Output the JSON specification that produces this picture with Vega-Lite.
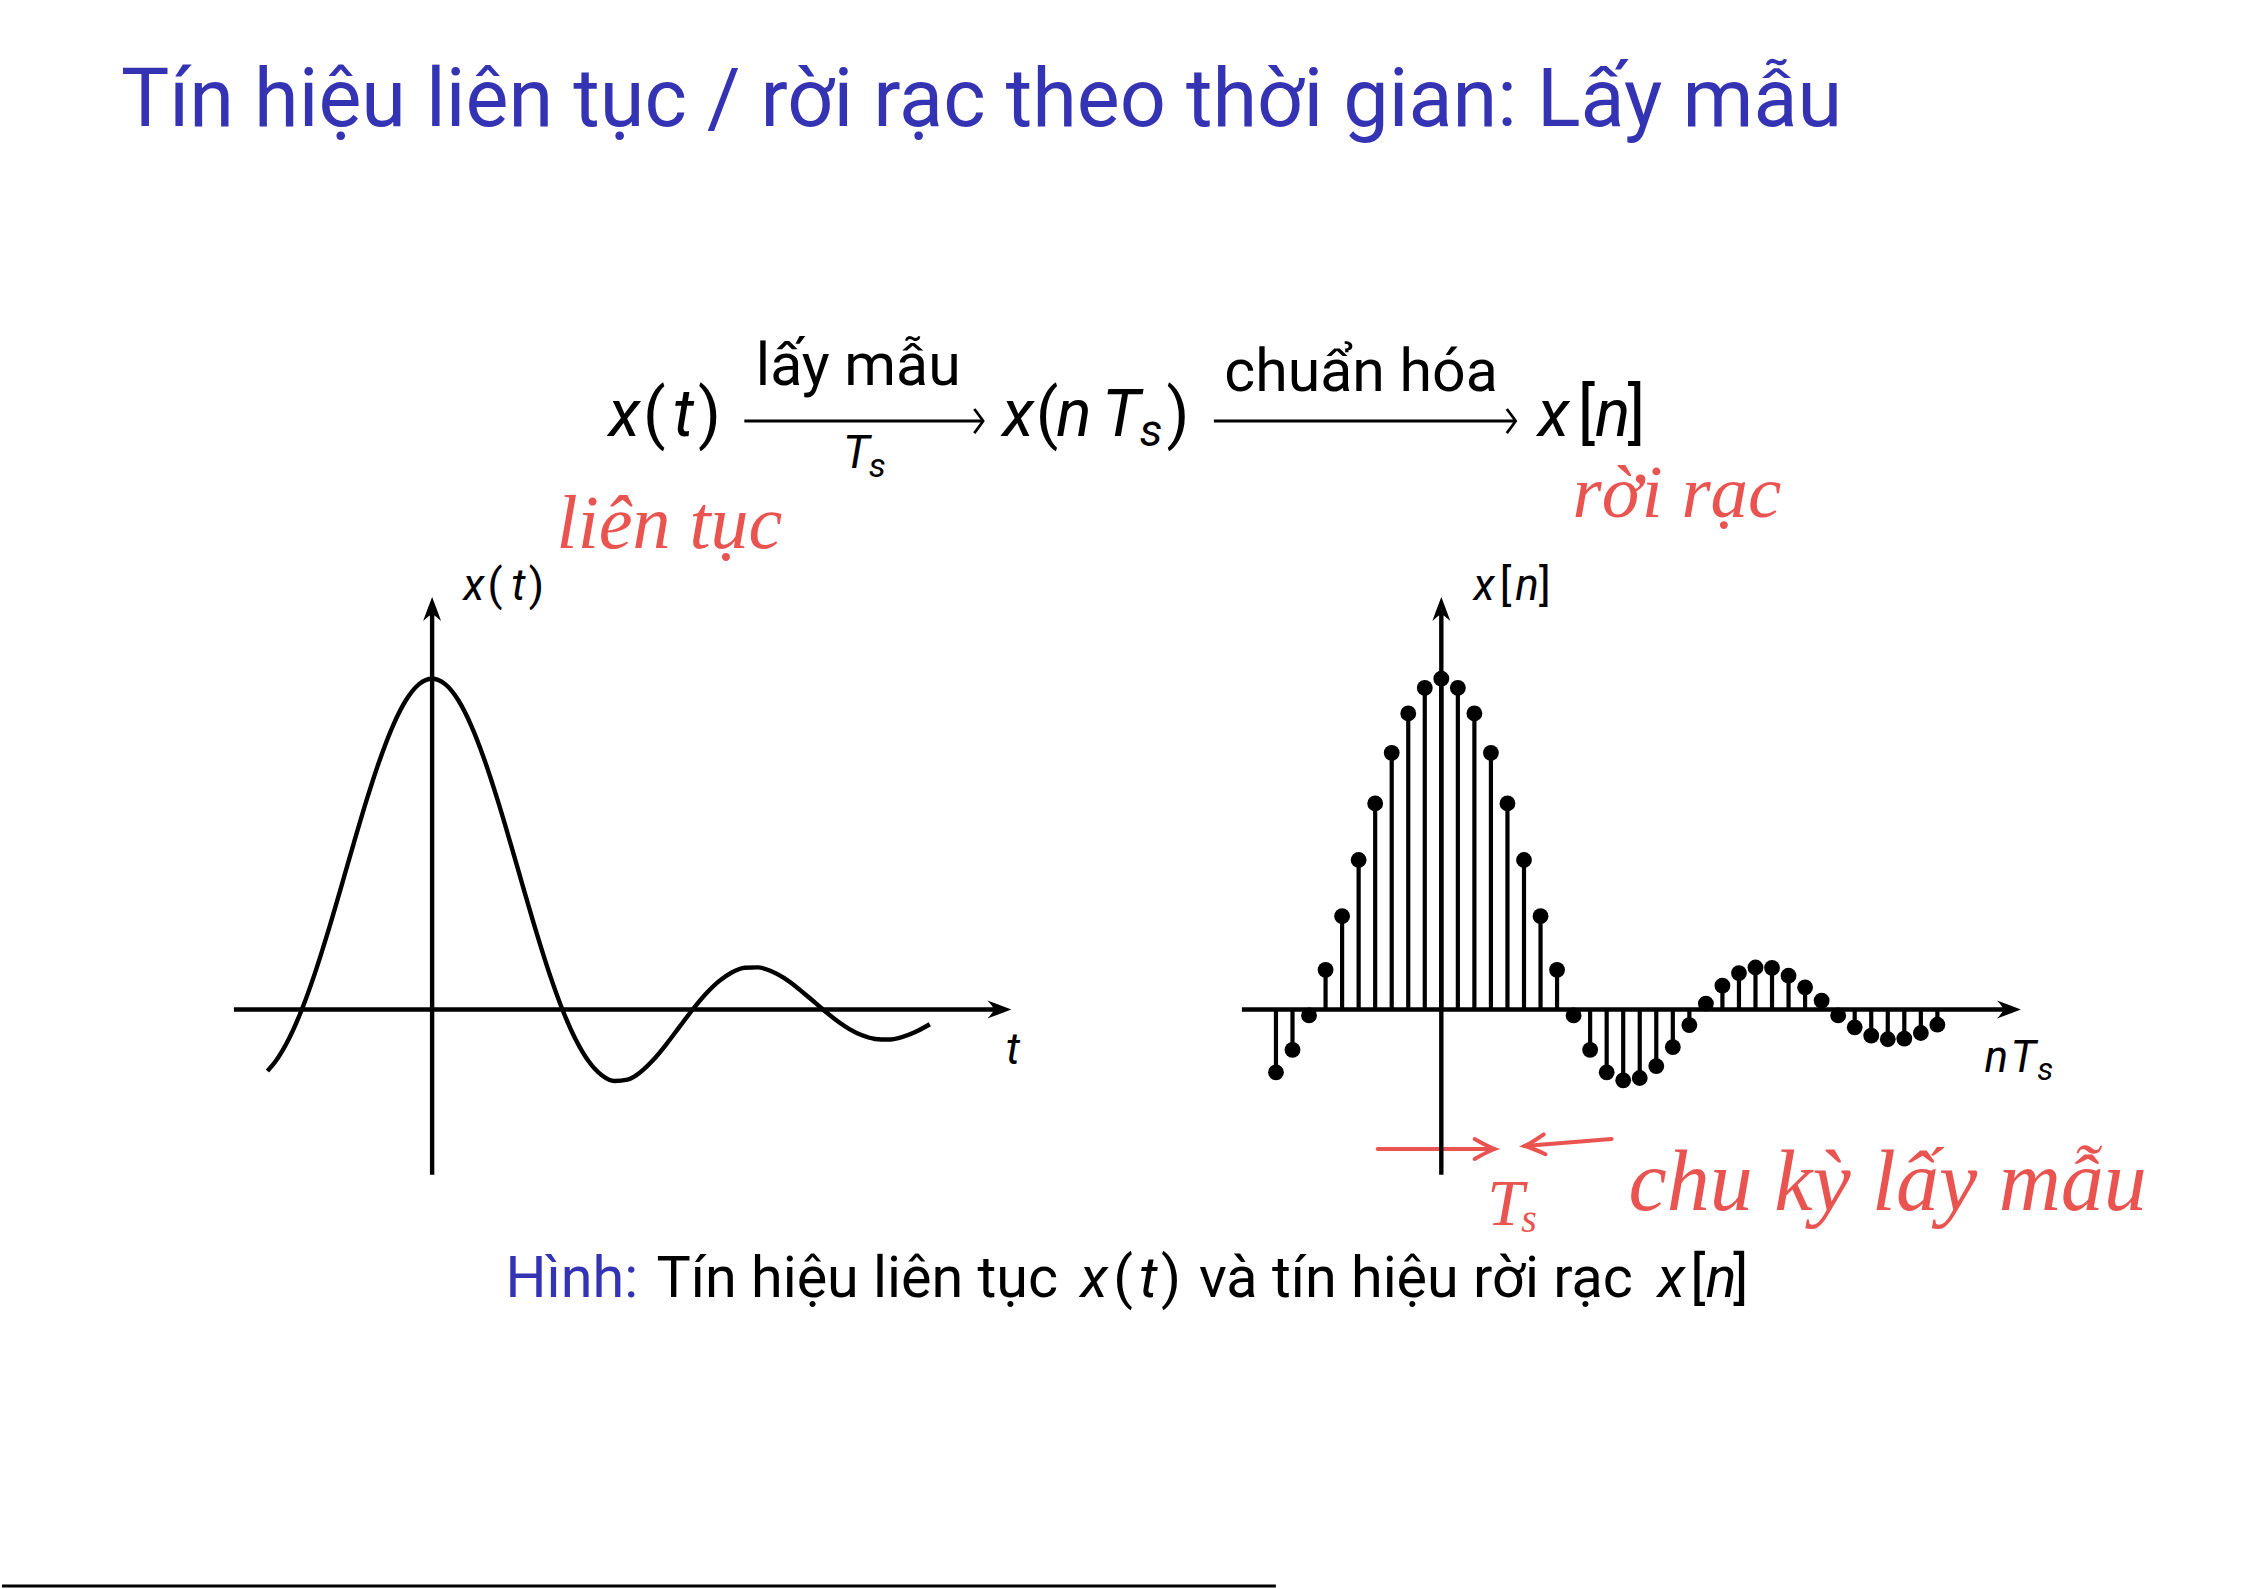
{
  "$schema": "https://vega.github.io/schema/vega-lite/v6.json",
  "width": 2247,
  "height": 1589,
  "autosize": {"type": "fit", "contains": "padding"},
  "padding": 0,
  "background": "white",
  "config": {"view": {"stroke": null}, "axis": {"disable": true}},
  "data": {"values": [{}]},
  "datasets": {
    "curve": [
      {"t": -1.264, "x": -0.186}, {"t": -1.2, "x": -0.1559}, {"t": -1.1, "x": -0.0894}, {"t": -1.0, "x": 0},
      {"t": -0.9, "x": 0.1093}, {"t": -0.8, "x": 0.2339}, {"t": -0.7, "x": 0.3679}, {"t": -0.6, "x": 0.5046},
      {"t": -0.5, "x": 0.6366}, {"t": -0.4, "x": 0.7568}, {"t": -0.3, "x": 0.8584}, {"t": -0.2, "x": 0.9355},
      {"t": -0.1, "x": 0.9836}, {"t": 0, "x": 1.0}, {"t": 0.1, "x": 0.9836}, {"t": 0.2, "x": 0.9355},
      {"t": 0.3, "x": 0.8584}, {"t": 0.4, "x": 0.7568}, {"t": 0.5, "x": 0.6366}, {"t": 0.6, "x": 0.5046},
      {"t": 0.7, "x": 0.3679}, {"t": 0.8, "x": 0.2339}, {"t": 0.9, "x": 0.1093}, {"t": 1.0, "x": 0},
      {"t": 1.1, "x": -0.0894}, {"t": 1.2, "x": -0.1559}, {"t": 1.3, "x": -0.1981}, {"t": 1.4, "x": -0.2162},
      {"t": 1.5, "x": -0.2122}, {"t": 1.6, "x": -0.1892}, {"t": 1.7, "x": -0.1515}, {"t": 1.8, "x": -0.1039},
      {"t": 1.9, "x": -0.0518}, {"t": 2.0, "x": 0}, {"t": 2.1, "x": 0.0468}, {"t": 2.2, "x": 0.085},
      {"t": 2.3, "x": 0.112}, {"t": 2.4, "x": 0.1261}, {"t": 2.5, "x": 0.1273}, {"t": 2.6, "x": 0.1164},
      {"t": 2.7, "x": 0.0954}, {"t": 2.8, "x": 0.0668}, {"t": 2.9, "x": 0.0339}, {"t": 3.0, "x": 0},
      {"t": 3.1, "x": -0.0317}, {"t": 3.2, "x": -0.0585}, {"t": 3.3, "x": -0.078}, {"t": 3.4, "x": -0.089},
      {"t": 3.5, "x": -0.0909}, {"t": 3.6, "x": -0.0841}, {"t": 3.7, "x": -0.0696}, {"t": 3.8, "x": -0.0492},
      {"t": 3.82, "x": -0.0446}
    ],
    "stems": [
      {"n": -10, "v": -0.19}, {"n": -9, "v": -0.122}, {"n": -8, "v": -0.018}, {"n": -7, "v": 0.12},
      {"n": -6, "v": 0.282}, {"n": -5, "v": 0.452}, {"n": -4, "v": 0.623}, {"n": -3, "v": 0.776},
      {"n": -2, "v": 0.895}, {"n": -1, "v": 0.972}, {"n": 0, "v": 1.0}, {"n": 1, "v": 0.972},
      {"n": 2, "v": 0.895}, {"n": 3, "v": 0.776}, {"n": 4, "v": 0.623}, {"n": 5, "v": 0.452},
      {"n": 6, "v": 0.282}, {"n": 7, "v": 0.12}, {"n": 8, "v": -0.018}, {"n": 9, "v": -0.122},
      {"n": 10, "v": -0.19}, {"n": 11, "v": -0.214}, {"n": 12, "v": -0.207}, {"n": 13, "v": -0.171},
      {"n": 14, "v": -0.114}, {"n": 15, "v": -0.047}, {"n": 16, "v": 0.018}, {"n": 17, "v": 0.072},
      {"n": 18, "v": 0.11}, {"n": 19, "v": 0.127}, {"n": 20, "v": 0.126}, {"n": 21, "v": 0.102},
      {"n": 22, "v": 0.067}, {"n": 23, "v": 0.027}, {"n": 24, "v": -0.018}, {"n": 25, "v": -0.054},
      {"n": 26, "v": -0.079}, {"n": 27, "v": -0.09}, {"n": 28, "v": -0.088}, {"n": 29, "v": -0.071},
      {"n": 30, "v": -0.046}
    ]
  },
  "resolve": {"scale": {"x": "independent"}},
  "layer": [
    {
      "layer": [
        {
          "data": {"name": "curve"},
          "mark": {"type": "line", "color": "black", "strokeWidth": 4.4, "interpolate": "monotone"},
          "encoding": {
            "x": {"field": "t", "type": "quantitative", "axis": null, "scale": {"domain": [-3.30138, 13.93021], "nice": false, "zero": false}},
            "y": {"field": "x", "type": "quantitative", "axis": null, "scale": {"domain": [-1.75181, 3.05169], "nice": false, "zero": false}}
          }
        },
        {
          "mark": {"type": "rule", "color": "black", "strokeWidth": 4.4},
          "encoding": {
            "x": {"datum": -1.521, "type": "quantitative", "scale": {"domain": [-3.30138, 13.93021], "nice": false, "zero": false}},
            "x2": {"datum": 4.36},
            "y": {"datum": 0, "type": "quantitative", "scale": {"domain": [-1.75181, 3.05169], "nice": false, "zero": false}}
          }
        },
        {
          "mark": {"type": "rule", "color": "black", "strokeWidth": 4.4},
          "encoding": {
            "x": {"datum": 0, "type": "quantitative", "scale": {"domain": [-3.30138, 13.93021], "nice": false, "zero": false}},
            "y": {"datum": -0.4994, "type": "quantitative", "scale": {"domain": [-1.75181, 3.05169], "nice": false, "zero": false}},
            "y2": {"datum": 1.2}
          }
        },
        {
          "mark": {"type": "point", "shape": "M 0 0 Q -0.9 -0.35 -2 -0.75 Q -1.55 -0.3 -1.45 0 Q -1.55 0.3 -2 0.75 Q -0.9 0.35 0 0 Z", "size": 576, "filled": true, "strokeWidth": 0, "color": "black", "opacity": 1, "angle": 0},
          "encoding": {
            "x": {"datum": 4.446, "type": "quantitative", "scale": {"domain": [-3.30138, 13.93021], "nice": false, "zero": false}},
            "y": {"datum": 0, "type": "quantitative", "scale": {"domain": [-1.75181, 3.05169], "nice": false, "zero": false}}
          }
        },
        {
          "mark": {"type": "point", "shape": "M 0 0 Q -0.9 -0.35 -2 -0.75 Q -1.55 -0.3 -1.45 0 Q -1.55 0.3 -2 0.75 Q -0.9 0.35 0 0 Z", "size": 576, "filled": true, "strokeWidth": 0, "color": "black", "opacity": 1, "angle": -90},
          "encoding": {
            "x": {"datum": 0, "type": "quantitative", "scale": {"domain": [-3.30138, 13.93021], "nice": false, "zero": false}},
            "y": {"datum": 1.247, "type": "quantitative", "scale": {"domain": [-1.75181, 3.05169], "nice": false, "zero": false}}
          }
        },
        {
          "mark": {"type": "rule", "color": "black", "strokeWidth": 2.8},
          "encoding": {
            "x": {"datum": 2.3965, "type": "quantitative", "scale": {"domain": [-3.30138, 13.93021], "nice": false, "zero": false}},
            "x2": {"datum": 4.2293},
            "y": {"datum": 1.779, "type": "quantitative", "scale": {"domain": [-1.75181, 3.05169], "nice": false, "zero": false}}
          }
        },
        {
          "mark": {"type": "rule", "color": "black", "strokeWidth": 2.8},
          "encoding": {
            "x": {"datum": 6.0008, "type": "quantitative", "scale": {"domain": [-3.30138, 13.93021], "nice": false, "zero": false}},
            "x2": {"datum": 8.3167},
            "y": {"datum": 1.779, "type": "quantitative", "scale": {"domain": [-1.75181, 3.05169], "nice": false, "zero": false}}
          }
        },
        {
          "mark": {"type": "point", "shape": "M -1.4 -1.9 Q -0.4 -0.6 0 0 Q -0.4 0.6 -1.4 1.9", "size": 160, "filled": false, "strokeWidth": 2.8, "color": "black", "opacity": 1, "angle": 0},
          "encoding": {
            "x": {"datum": 4.2293, "type": "quantitative", "scale": {"domain": [-3.30138, 13.93021], "nice": false, "zero": false}},
            "y": {"datum": 1.779, "type": "quantitative", "scale": {"domain": [-1.75181, 3.05169], "nice": false, "zero": false}}
          }
        },
        {
          "mark": {"type": "point", "shape": "M -1.4 -1.9 Q -0.4 -0.6 0 0 Q -0.4 0.6 -1.4 1.9", "size": 160, "filled": false, "strokeWidth": 2.8, "color": "black", "opacity": 1, "angle": 0},
          "encoding": {
            "x": {"datum": 8.3167, "type": "quantitative", "scale": {"domain": [-3.30138, 13.93021], "nice": false, "zero": false}},
            "y": {"datum": 1.779, "type": "quantitative", "scale": {"domain": [-1.75181, 3.05169], "nice": false, "zero": false}}
          }
        },
        {
          "mark": {"type": "rule", "color": "black", "strokeWidth": 3},
          "encoding": {
            "x": {"datum": -3.30138, "type": "quantitative", "scale": {"domain": [-3.30138, 13.93021], "nice": false, "zero": false}},
            "x2": {"datum": 6.4762},
            "y": {"datum": -1.7428, "type": "quantitative", "scale": {"domain": [-1.75181, 3.05169], "nice": false, "zero": false}}
          }
        },
        {
          "mark": {"type": "rule", "color": "#EA5450", "strokeWidth": 4, "strokeCap": "round"},
          "encoding": {
            "x": {"datum": 7.2584, "type": "quantitative", "scale": {"domain": [-3.30138, 13.93021], "nice": false, "zero": false}},
            "x2": {"datum": 8.15},
            "y": {"datum": -0.4217, "type": "quantitative", "scale": {"domain": [-1.75181, 3.05169], "nice": false, "zero": false}}
          }
        },
        {
          "mark": {"type": "rule", "color": "#EA5450", "strokeWidth": 4, "strokeCap": "round"},
          "encoding": {
            "x": {"datum": 9.0529, "type": "quantitative", "scale": {"domain": [-3.30138, 13.93021], "nice": false, "zero": false}},
            "x2": {"datum": 8.3858},
            "y": {"datum": -0.3915, "type": "quantitative", "scale": {"domain": [-1.75181, 3.05169], "nice": false, "zero": false}},
            "y2": {"datum": -0.4126}
          }
        },
        {
          "mark": {"type": "point", "shape": "M -2 -1 Q -0.8 -0.3 0 0 Q -0.8 0.3 -2 1", "size": 400, "filled": false, "strokeWidth": 4, "strokeCap": "round", "color": "#EA5450", "opacity": 1, "angle": 0},
          "encoding": {
            "x": {"datum": 8.1557, "type": "quantitative", "scale": {"domain": [-3.30138, 13.93021], "nice": false, "zero": false}},
            "y": {"datum": -0.4217, "type": "quantitative", "scale": {"domain": [-1.75181, 3.05169], "nice": false, "zero": false}}
          }
        },
        {
          "mark": {"type": "point", "shape": "M -2 -1 Q -0.8 -0.3 0 0 Q -0.8 0.3 -2 1", "size": 400, "filled": false, "strokeWidth": 4, "strokeCap": "round", "color": "#EA5450", "opacity": 1, "angle": 175},
          "encoding": {
            "x": {"datum": 8.3858, "type": "quantitative", "scale": {"domain": [-3.30138, 13.93021], "nice": false, "zero": false}},
            "y": {"datum": -0.4126, "type": "quantitative", "scale": {"domain": [-1.75181, 3.05169], "nice": false, "zero": false}}
          }
        },
        {"mark": {"type": "text", "text": "Tín hiệu liên tục / rời rạc theo thời gian: Lấy mẫu", "font": "Roboto", "fontSize": 81, "align": "left", "baseline": "alphabetic", "color": "#3333B3"},
         "encoding": {"x": {"datum": -2.3888, "type": "quantitative"}, "y": {"datum": 2.6708, "type": "quantitative"}}},

        {"mark": {"type": "text", "text": "x", "font": "Roboto", "fontStyle": "italic", "fontSize": 66, "align": "center", "baseline": "alphabetic", "color": "black"},
         "encoding": {"x": {"datum": 1.4762, "type": "quantitative"}, "y": {"datum": 1.7337, "type": "quantitative"}}},
        {"mark": {"type": "text", "text": "(", "font": "Roboto", "fontSize": 66, "align": "center", "baseline": "alphabetic", "color": "black"},
         "encoding": {"x": {"datum": 1.7063, "type": "quantitative"}, "y": {"datum": 1.7337, "type": "quantitative"}}},
        {"mark": {"type": "text", "text": "t", "font": "Roboto", "fontStyle": "italic", "fontSize": 66, "align": "center", "baseline": "alphabetic", "color": "black"},
         "encoding": {"x": {"datum": 1.9287, "type": "quantitative"}, "y": {"datum": 1.7337, "type": "quantitative"}}},
        {"mark": {"type": "text", "text": ")", "font": "Roboto", "fontSize": 66, "align": "center", "baseline": "alphabetic", "color": "black"},
         "encoding": {"x": {"datum": 2.1281, "type": "quantitative"}, "y": {"datum": 1.7337, "type": "quantitative"}}},
        {"mark": {"type": "text", "text": "lấy mẫu", "font": "Roboto", "fontSize": 59, "align": "center", "baseline": "alphabetic", "color": "black"},
         "encoding": {"x": {"datum": 3.2707, "type": "quantitative"}, "y": {"datum": 1.8878, "type": "quantitative"}}},
        {"mark": {"type": "text", "text": "T", "font": "Roboto", "fontStyle": "italic", "fontSize": 46, "align": "center", "baseline": "alphabetic", "color": "black"},
         "encoding": {"x": {"datum": 3.2553, "type": "quantitative"}, "y": {"datum": 1.6369, "type": "quantitative"}}},
        {"mark": {"type": "text", "text": "s", "font": "Roboto", "fontStyle": "italic", "fontSize": 34, "align": "center", "baseline": "alphabetic", "color": "black"},
         "encoding": {"x": {"datum": 3.4165, "type": "quantitative"}, "y": {"datum": 1.6097, "type": "quantitative"}}},
        {"mark": {"type": "text", "text": "x", "font": "Roboto", "fontStyle": "italic", "fontSize": 66, "align": "center", "baseline": "alphabetic", "color": "black"},
         "encoding": {"x": {"datum": 4.4977, "type": "quantitative"}, "y": {"datum": 1.7337, "type": "quantitative"}}},
        {"mark": {"type": "text", "text": "(", "font": "Roboto", "fontSize": 66, "align": "center", "baseline": "alphabetic", "color": "black"},
         "encoding": {"x": {"datum": 4.7201, "type": "quantitative"}, "y": {"datum": 1.7337, "type": "quantitative"}}},
        {"mark": {"type": "text", "text": "n", "font": "Roboto", "fontStyle": "italic", "fontSize": 66, "align": "center", "baseline": "alphabetic", "color": "black"},
         "encoding": {"x": {"datum": 4.9271, "type": "quantitative"}, "y": {"datum": 1.7337, "type": "quantitative"}}},
        {"mark": {"type": "text", "text": "T", "font": "Roboto", "fontStyle": "italic", "fontSize": 66, "align": "center", "baseline": "alphabetic", "color": "black"},
         "encoding": {"x": {"datum": 5.2876, "type": "quantitative"}, "y": {"datum": 1.7337, "type": "quantitative"}}},
        {"mark": {"type": "text", "text": "s", "font": "Roboto", "fontStyle": "italic", "fontSize": 46, "align": "center", "baseline": "alphabetic", "color": "black"},
         "encoding": {"x": {"datum": 5.5176, "type": "quantitative"}, "y": {"datum": 1.7035, "type": "quantitative"}}},
        {"mark": {"type": "text", "text": ")", "font": "Roboto", "fontSize": 66, "align": "center", "baseline": "alphabetic", "color": "black"},
         "encoding": {"x": {"datum": 5.7247, "type": "quantitative"}, "y": {"datum": 1.7337, "type": "quantitative"}}},
        {"mark": {"type": "text", "text": "chuẩn hóa", "font": "Roboto", "fontSize": 59, "align": "center", "baseline": "alphabetic", "color": "black"},
         "encoding": {"x": {"datum": 7.13, "type": "quantitative"}, "y": {"datum": 1.8697, "type": "quantitative"}}},
        {"mark": {"type": "text", "text": "x", "font": "Roboto", "fontStyle": "italic", "fontSize": 66, "align": "center", "baseline": "alphabetic", "color": "black"},
         "encoding": {"x": {"datum": 8.6081, "type": "quantitative"}, "y": {"datum": 1.7337, "type": "quantitative"}}},
        {"mark": {"type": "text", "text": "[", "font": "Roboto", "fontSize": 66, "align": "center", "baseline": "alphabetic", "color": "black"},
         "encoding": {"x": {"datum": 8.8612, "type": "quantitative"}, "y": {"datum": 1.7337, "type": "quantitative"}}},
        {"mark": {"type": "text", "text": "n", "font": "Roboto", "fontStyle": "italic", "fontSize": 66, "align": "center", "baseline": "alphabetic", "color": "black"},
         "encoding": {"x": {"datum": 9.0606, "type": "quantitative"}, "y": {"datum": 1.7337, "type": "quantitative"}}},
        {"mark": {"type": "text", "text": "]", "font": "Roboto", "fontSize": 66, "align": "center", "baseline": "alphabetic", "color": "black"},
         "encoding": {"x": {"datum": 9.2446, "type": "quantitative"}, "y": {"datum": 1.7337, "type": "quantitative"}}},

        {"mark": {"type": "text", "text": "x", "font": "Roboto", "fontStyle": "italic", "fontSize": 44, "align": "center", "baseline": "alphabetic", "color": "black"},
         "encoding": {"x": {"datum": 0.3206, "type": "quantitative"}, "y": {"datum": 1.2364, "type": "quantitative"}}},
        {"mark": {"type": "text", "text": "(", "font": "Roboto", "fontSize": 44, "align": "center", "baseline": "alphabetic", "color": "black"},
         "encoding": {"x": {"datum": 0.482, "type": "quantitative"}, "y": {"datum": 1.2364, "type": "quantitative"}}},
        {"mark": {"type": "text", "text": "t", "font": "Roboto", "fontStyle": "italic", "fontSize": 44, "align": "center", "baseline": "alphabetic", "color": "black"},
         "encoding": {"x": {"datum": 0.6633, "type": "quantitative"}, "y": {"datum": 1.2364, "type": "quantitative"}}},
        {"mark": {"type": "text", "text": ")", "font": "Roboto", "fontSize": 44, "align": "center", "baseline": "alphabetic", "color": "black"},
         "encoding": {"x": {"datum": 0.8014, "type": "quantitative"}, "y": {"datum": 1.2364, "type": "quantitative"}}},
        {"mark": {"type": "text", "text": "t", "font": "Roboto", "fontStyle": "italic", "fontSize": 44, "align": "center", "baseline": "alphabetic", "color": "black"},
         "encoding": {"x": {"datum": 4.4586, "type": "quantitative"}, "y": {"datum": -0.1648, "type": "quantitative"}}},
        {"mark": {"type": "text", "text": "x", "font": "Roboto", "fontStyle": "italic", "fontSize": 44, "align": "center", "baseline": "alphabetic", "color": "black"},
         "encoding": {"x": {"datum": 8.0737, "type": "quantitative"}, "y": {"datum": 1.2364, "type": "quantitative"}}},
        {"mark": {"type": "text", "text": "[", "font": "Roboto", "fontSize": 44, "align": "center", "baseline": "alphabetic", "color": "black"},
         "encoding": {"x": {"datum": 8.24, "type": "quantitative"}, "y": {"datum": 1.2364, "type": "quantitative"}}},
        {"mark": {"type": "text", "text": "n", "font": "Roboto", "fontStyle": "italic", "fontSize": 44, "align": "center", "baseline": "alphabetic", "color": "black"},
         "encoding": {"x": {"datum": 8.4034, "type": "quantitative"}, "y": {"datum": 1.2364, "type": "quantitative"}}},
        {"mark": {"type": "text", "text": "]", "font": "Roboto", "fontSize": 44, "align": "center", "baseline": "alphabetic", "color": "black"},
         "encoding": {"x": {"datum": 8.5414, "type": "quantitative"}, "y": {"datum": 1.2364, "type": "quantitative"}}},
        {"mark": {"type": "text", "text": "n", "font": "Roboto", "fontStyle": "italic", "fontSize": 44, "align": "center", "baseline": "alphabetic", "color": "black"},
         "encoding": {"x": {"datum": 12.0054, "type": "quantitative"}, "y": {"datum": -0.1889, "type": "quantitative"}}},
        {"mark": {"type": "text", "text": "T", "font": "Roboto", "fontStyle": "italic", "fontSize": 44, "align": "center", "baseline": "alphabetic", "color": "black"},
         "encoding": {"x": {"datum": 12.2124, "type": "quantitative"}, "y": {"datum": -0.1889, "type": "quantitative"}}},
        {"mark": {"type": "text", "text": "s", "font": "Roboto", "fontStyle": "italic", "fontSize": 32, "align": "center", "baseline": "alphabetic", "color": "black"},
         "encoding": {"x": {"datum": 12.3811, "type": "quantitative"}, "y": {"datum": -0.2131, "type": "quantitative"}}},

        {"mark": {"type": "text", "text": "Hình:", "font": "Roboto", "fontSize": 57.5, "align": "left", "baseline": "alphabetic", "color": "#3333B3"},
         "encoding": {"x": {"datum": 0.5637, "type": "quantitative"}, "y": {"datum": -0.8691, "type": "quantitative"}}},
        {"mark": {"type": "text", "text": "Tín hiệu liên tục", "font": "Roboto", "fontSize": 57.5, "align": "left", "baseline": "alphabetic", "color": "black"},
         "encoding": {"x": {"datum": 1.7216, "type": "quantitative"}, "y": {"datum": -0.8691, "type": "quantitative"}}},
        {"mark": {"type": "text", "text": "x", "font": "Roboto", "fontStyle": "italic", "fontSize": 57.5, "align": "center", "baseline": "alphabetic", "color": "black"},
         "encoding": {"x": {"datum": 5.0805, "type": "quantitative"}, "y": {"datum": -0.8691, "type": "quantitative"}}},
        {"mark": {"type": "text", "text": "(", "font": "Roboto", "fontSize": 57.5, "align": "center", "baseline": "alphabetic", "color": "black"},
         "encoding": {"x": {"datum": 5.3036, "type": "quantitative"}, "y": {"datum": -0.8691, "type": "quantitative"}}},
        {"mark": {"type": "text", "text": "t", "font": "Roboto", "fontStyle": "italic", "fontSize": 57.5, "align": "center", "baseline": "alphabetic", "color": "black"},
         "encoding": {"x": {"datum": 5.4976, "type": "quantitative"}, "y": {"datum": -0.8691, "type": "quantitative"}}},
        {"mark": {"type": "text", "text": ")", "font": "Roboto", "fontSize": 57.5, "align": "center", "baseline": "alphabetic", "color": "black"},
         "encoding": {"x": {"datum": 5.671, "type": "quantitative"}, "y": {"datum": -0.8691, "type": "quantitative"}}},
        {"mark": {"type": "text", "text": "và tín hiệu rời rạc", "font": "Roboto", "fontSize": 57.5, "align": "left", "baseline": "alphabetic", "color": "black"},
         "encoding": {"x": {"datum": 5.8857, "type": "quantitative"}, "y": {"datum": -0.8691, "type": "quantitative"}}},
        {"mark": {"type": "text", "text": "x", "font": "Roboto", "fontStyle": "italic", "fontSize": 57.5, "align": "center", "baseline": "alphabetic", "color": "black"},
         "encoding": {"x": {"datum": 9.5124, "type": "quantitative"}, "y": {"datum": -0.8691, "type": "quantitative"}}},
        {"mark": {"type": "text", "text": "[", "font": "Roboto", "fontSize": 57.5, "align": "center", "baseline": "alphabetic", "color": "black"},
         "encoding": {"x": {"datum": 9.7148, "type": "quantitative"}, "y": {"datum": -0.8691, "type": "quantitative"}}},
        {"mark": {"type": "text", "text": "n", "font": "Roboto", "fontStyle": "italic", "fontSize": 57.5, "align": "center", "baseline": "alphabetic", "color": "black"},
         "encoding": {"x": {"datum": 9.895, "type": "quantitative"}, "y": {"datum": -0.8691, "type": "quantitative"}}},
        {"mark": {"type": "text", "text": "]", "font": "Roboto", "fontSize": 57.5, "align": "center", "baseline": "alphabetic", "color": "black"},
         "encoding": {"x": {"datum": 10.0445, "type": "quantitative"}, "y": {"datum": -0.8691, "type": "quantitative"}}},

        {"mark": {"type": "text", "text": "liên tục", "font": "Liberation Serif", "fontStyle": "italic", "fontSize": 76, "align": "left", "baseline": "alphabetic", "color": "#EA5450"},
         "encoding": {"x": {"datum": 0.9548, "type": "quantitative"}, "y": {"datum": 1.3951, "type": "quantitative"}}},
        {"mark": {"type": "text", "text": "rời rạc", "font": "Liberation Serif", "fontStyle": "italic", "fontSize": 75, "align": "left", "baseline": "alphabetic", "color": "#EA5450"},
         "encoding": {"x": {"datum": 8.7538, "type": "quantitative"}, "y": {"datum": 1.4888, "type": "quantitative"}}},
        {"mark": {"type": "text", "text": "T", "font": "Liberation Serif", "fontStyle": "italic", "fontSize": 66, "align": "center", "baseline": "alphabetic", "color": "#EA5450"},
         "encoding": {"x": {"datum": 8.24, "type": "quantitative"}, "y": {"datum": -0.6515, "type": "quantitative"}}},
        {"mark": {"type": "text", "text": "s", "font": "Liberation Serif", "fontStyle": "italic", "fontSize": 40, "align": "center", "baseline": "alphabetic", "color": "#EA5450"},
         "encoding": {"x": {"datum": 8.42, "type": "quantitative"}, "y": {"datum": -0.6727, "type": "quantitative"}}},
        {"mark": {"type": "text", "text": "chu kỳ lấy mẫu", "font": "Liberation Serif", "fontStyle": "italic", "fontSize": 86, "align": "left", "baseline": "alphabetic", "color": "#EA5450"},
         "encoding": {"x": {"datum": 9.1833, "type": "quantitative"}, "y": {"datum": -0.6062, "type": "quantitative"}}}
      ]
    },
    {
      "layer": [
        {
          "mark": {"type": "rule", "color": "black", "strokeWidth": 4.4},
          "encoding": {
            "x": {"datum": -12.06, "type": "quantitative", "axis": null, "scale": {"domain": [-87.0453, 48.7251], "nice": false, "zero": false}},
            "x2": {"datum": 34.4},
            "y": {"datum": 0, "type": "quantitative", "scale": {"domain": [-1.75181, 3.05169], "nice": false, "zero": false}}
          }
        },
        {
          "mark": {"type": "rule", "color": "black", "strokeWidth": 4.4},
          "encoding": {
            "x": {"datum": 0, "type": "quantitative", "scale": {"domain": [-87.0453, 48.7251], "nice": false, "zero": false}},
            "y": {"datum": -0.4994, "type": "quantitative", "scale": {"domain": [-1.75181, 3.05169], "nice": false, "zero": false}},
            "y2": {"datum": 1.2}
          }
        },
        {
          "mark": {"type": "point", "shape": "M 0 0 Q -0.9 -0.35 -2 -0.75 Q -1.55 -0.3 -1.45 0 Q -1.55 0.3 -2 0.75 Q -0.9 0.35 0 0 Z", "size": 576, "filled": true, "strokeWidth": 0, "color": "black", "opacity": 1, "angle": 0},
          "encoding": {
            "x": {"datum": 35.05, "type": "quantitative", "scale": {"domain": [-87.0453, 48.7251], "nice": false, "zero": false}},
            "y": {"datum": 0, "type": "quantitative", "scale": {"domain": [-1.75181, 3.05169], "nice": false, "zero": false}}
          }
        },
        {
          "mark": {"type": "point", "shape": "M 0 0 Q -0.9 -0.35 -2 -0.75 Q -1.55 -0.3 -1.45 0 Q -1.55 0.3 -2 0.75 Q -0.9 0.35 0 0 Z", "size": 576, "filled": true, "strokeWidth": 0, "color": "black", "opacity": 1, "angle": -90},
          "encoding": {
            "x": {"datum": 0, "type": "quantitative", "scale": {"domain": [-87.0453, 48.7251], "nice": false, "zero": false}},
            "y": {"datum": 1.247, "type": "quantitative", "scale": {"domain": [-1.75181, 3.05169], "nice": false, "zero": false}}
          }
        },
        {
          "data": {"name": "stems"},
          "mark": {"type": "rule", "color": "black", "strokeWidth": 4.2},
          "encoding": {
            "x": {"field": "n", "type": "quantitative", "scale": {"domain": [-87.0453, 48.7251], "nice": false, "zero": false}},
            "y": {"field": "v", "type": "quantitative", "scale": {"domain": [-1.75181, 3.05169], "nice": false, "zero": false}},
            "y2": {"datum": 0}
          }
        },
        {
          "data": {"name": "stems"},
          "mark": {"type": "circle", "color": "black", "size": 250, "opacity": 1},
          "encoding": {
            "x": {"field": "n", "type": "quantitative", "scale": {"domain": [-87.0453, 48.7251], "nice": false, "zero": false}},
            "y": {"field": "v", "type": "quantitative", "scale": {"domain": [-1.75181, 3.05169], "nice": false, "zero": false}}
          }
        }
      ]
    }
  ]
}
